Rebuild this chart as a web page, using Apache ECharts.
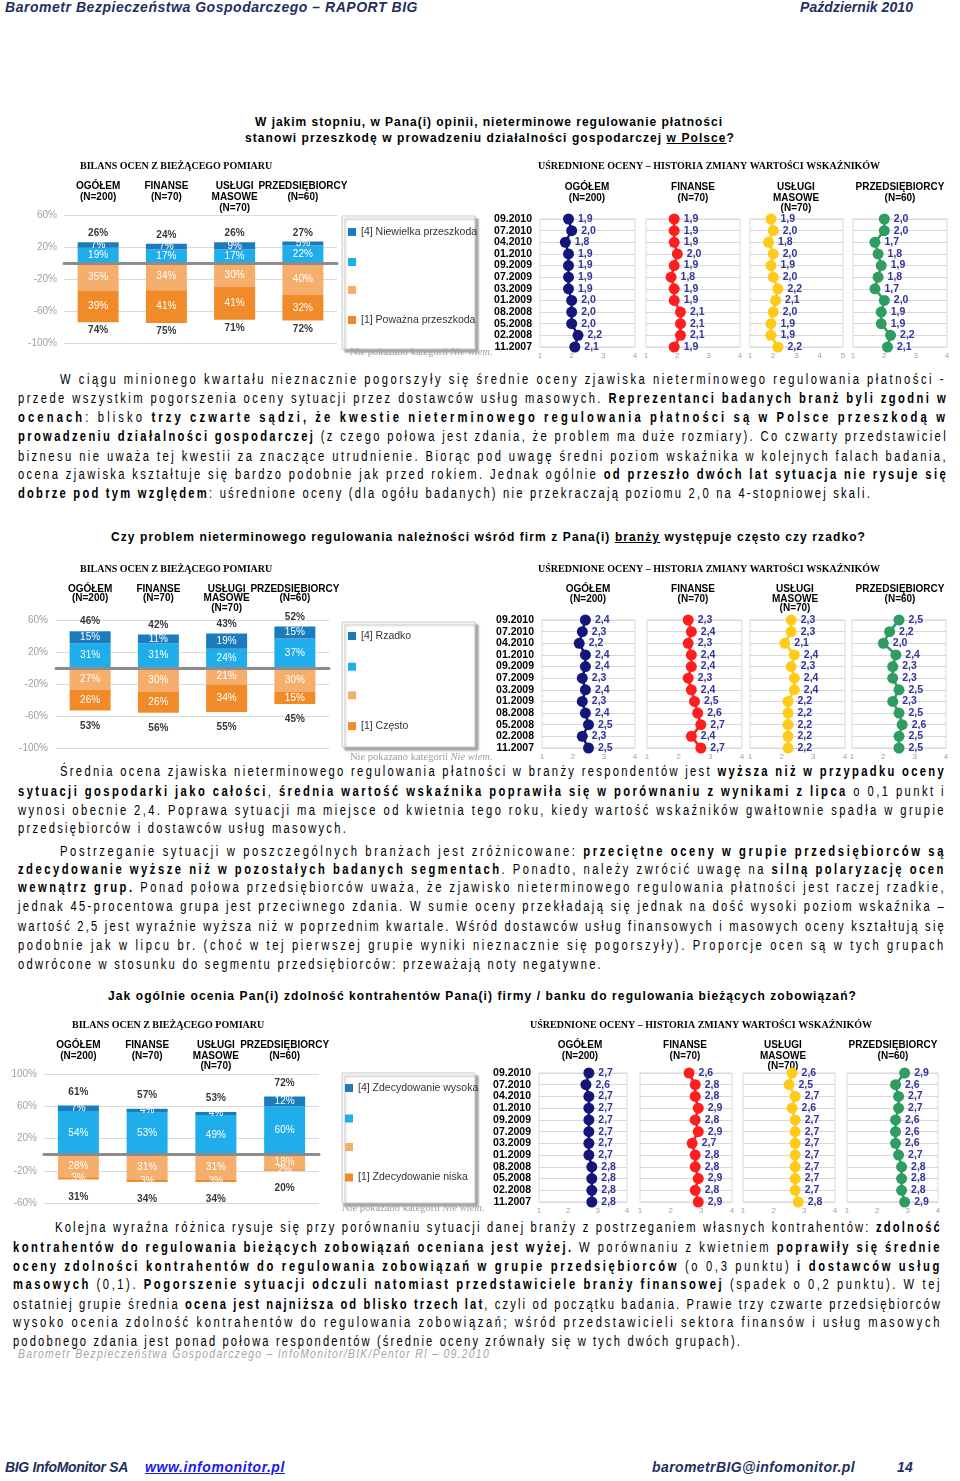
<!DOCTYPE html>
<html><head><meta charset="utf-8">
<script src="https://cdn.jsdelivr.net/npm/echarts@6/dist/echarts.min.js"></script>
<style>
html,body{margin:0;padding:0;background:#fff;}
#page{position:relative;width:960px;height:1481px;overflow:hidden;background:#fff;}
.ln{position:absolute;white-space:nowrap;font-family:'Liberation Sans',Arial,sans-serif;font-size:14px;line-height:19px;color:#000;transform:scaleX(0.8);transform-origin:0 0;}
.ln b{font-weight:bold;}
.src{position:absolute;white-space:nowrap;font-family:'Liberation Sans',sans-serif;font-style:italic;font-size:13px;line-height:14px;color:#a6a6a6;transform:scaleX(0.8);transform-origin:0 0;}
.q{position:absolute;white-space:nowrap;font-family:'Liberation Sans',Arial,sans-serif;font-weight:bold;font-size:12px;line-height:14px;color:#000;}
.hd{position:absolute;white-space:nowrap;font-family:'Liberation Sans',sans-serif;font-weight:bold;font-style:italic;font-size:14px;line-height:15px;color:#1f2f5f;}
.hd a{color:#1a1aee;text-decoration:underline;}
.chart{position:absolute;left:0;width:960px;}
</style></head><body><div id="page">

<div class="hd" style="left:5px;top:0px" data-w="413">Barometr Bezpieczeństwa Gospodarczego – RAPORT BIG</div>
<div class="hd" style="left:800px;top:0px" data-w="113">Październik 2010</div>

<div class="q" style="left:255px;top:115px" data-w="468">W jakim stopniu, w Pana(i) opinii, nieterminowe regulowanie płatności</div>
<div class="q" style="left:245px;top:131px" data-w="490">stanowi przeszkodę w prowadzeniu działalności gospodarczej <u>w Polsce</u>?</div>

<div class="ln" style="left:60px;top:369.5px" data-w="886">W ciągu minionego kwartału nieznacznie pogorszyły się średnie oceny zjawiska nieterminowego regulowania płatności -</div>
<div class="ln" style="left:18px;top:388.5px" data-w="930">przede wszystkim pogorszenia oceny sytuacji przez dostawców usług masowych. <b>Reprezentanci badanych branż byli zgodni w</b></div>
<div class="ln" style="left:18px;top:407.5px" data-w="930"><b>ocenach</b>: blisko <b>trzy czwarte sądzi, że kwestie nieterminowego regulowania płatności są w Polsce przeszkodą w</b></div>
<div class="ln" style="left:18px;top:426.5px" data-w="930"><b>prowadzeniu działalności gospodarczej</b> (z czego połowa jest zdania, że problem ma duże rozmiary). Co czwarty przedstawiciel</div>
<div class="ln" style="left:18px;top:446.5px" data-w="930">biznesu nie uważa tej kwestii za znaczące utrudnienie. Biorąc pod uwagę średni poziom wskaźnika w kolejnych falach badania,</div>
<div class="ln" style="left:18px;top:464.5px" data-w="930">ocena zjawiska kształtuje się bardzo podobnie jak przed rokiem. Jednak ogólnie <b>od przeszło dwóch lat sytuacja nie rysuje się</b></div>
<div class="ln" style="left:18px;top:483.5px" data-w="854"><b>dobrze pod tym względem</b>: uśrednione oceny (dla ogółu badanych) nie przekraczają poziomu 2,0 na 4-stopniowej skali.</div>

<div class="q" style="left:111px;top:530px" data-w="755">Czy problem nieterminowego regulowania należności wśród firm z Pana(i) <u>branży</u> występuje często czy rzadko?</div>

<div class="ln" style="left:60px;top:761.5px" data-w="886">Średnia ocena zjawiska nieterminowego regulowania płatności w branży respondentów jest <b>wyższa niż w przypadku oceny</b></div>
<div class="ln" style="left:18px;top:781.5px" data-w="928"><b>sytuacji gospodarki jako całości</b>, <b>średnia wartość wskaźnika poprawiła się w porównaniu z wynikami z lipca</b> o 0,1 punkt i</div>
<div class="ln" style="left:18px;top:800.5px" data-w="928">wynosi obecnie 2,4. Poprawa sytuacji ma miejsce od kwietnia tego roku, kiedy wartość wskaźników gwałtownie spadła w grupie</div>
<div class="ln" style="left:18px;top:818.5px" data-w="330">przedsiębiorców i dostawców usług masowych.</div>
<div class="ln" style="left:60px;top:841.5px" data-w="886">Postrzeganie sytuacji w poszczególnych branżach jest zróżnicowane: <b>przeciętne oceny w grupie przedsiębiorców są</b></div>
<div class="ln" style="left:18px;top:859.5px" data-w="928"><b>zdecydowanie wyższe niż w pozostałych badanych segmentach</b>. Ponadto, należy zwrócić uwagę na <b>silną polaryzację ocen</b></div>
<div class="ln" style="left:18px;top:877.5px" data-w="928"><b>wewnątrz grup.</b> Ponad połowa przedsiębiorców uważa, że zjawisko nieterminowego regulowania płatności jest raczej rzadkie,</div>
<div class="ln" style="left:18px;top:896.5px" data-w="928">jednak 45-procentowa grupa jest przeciwnego zdania. W sumie oceny przekładają się jednak na dość wysoki poziom wskaźnika –</div>
<div class="ln" style="left:18px;top:916.5px" data-w="928">wartość 2,5 jest wyraźnie wyższa niż w poprzednim kwartale. Wśród dostawców usług finansowych i masowych oceny kształtują się</div>
<div class="ln" style="left:18px;top:935.5px" data-w="928">podobnie jak w lipcu br. (choć w tej pierwszej grupie wyniki nieznacznie się pogorszyły). Proporcje ocen są w tych grupach</div>
<div class="ln" style="left:18px;top:954.5px" data-w="585">odwrócone w stosunku do segmentu przedsiębiorców: przeważają noty negatywne.</div>

<div class="q" style="left:108px;top:989px" data-w="749">Jak ogólnie ocenia Pan(i) zdolność kontrahentów Pana(i) firmy / banku do regulowania bieżących zobowiązań?</div>

<div class="ln" style="left:55px;top:1217.5px" data-w="887">Kolejna wyraźna różnica rysuje się przy porównaniu sytuacji danej branży z postrzeganiem własnych kontrahentów: <b>zdolność</b></div>
<div class="ln" style="left:13px;top:1237.5px" data-w="929"><b>kontrahentów do regulowania bieżących zobowiązań oceniana jest wyżej.</b> W porównaniu z kwietniem <b>poprawiły się średnie</b></div>
<div class="ln" style="left:13px;top:1256.5px" data-w="929"><b>oceny zdolności kontrahentów do regulowania zobowiązań w grupie przedsiębiorców</b> (o 0,3 punktu) <b>i dostawców usług</b></div>
<div class="ln" style="left:13px;top:1274.5px" data-w="929"><b>masowych</b> (0,1). <b>Pogorszenie sytuacji odczuli natomiast przedstawiciele branży finansowej</b> (spadek o 0,2 punktu). W tej</div>
<div class="ln" style="left:13px;top:1294.5px" data-w="929">ostatniej grupie średnia <b>ocena jest najniższa od blisko trzech lat</b>, czyli od początku badania. Prawie trzy czwarte przedsiębiorców</div>
<div class="ln" style="left:13px;top:1312.5px" data-w="929">wysoko ocenia zdolność kontrahentów do regulowania zobowiązań; wśród przedstawicieli sektora finansów i usług masowych</div>
<div class="ln" style="left:13px;top:1331.5px" data-w="729">podobnego zdania jest ponad połowa respondentów (średnie oceny zrównały się w tych dwóch grupach).</div>
<div class="src" style="left:18px;top:1347px" data-w="472">Barometr Bezpieczeństwa Gospodarczego – InfoMonitor/BIK/Pentor RI – 09.2010</div>

<div class="hd" style="left:5px;top:1460px" data-w="123">BIG InfoMonitor SA</div>
<div class="hd" style="left:145px;top:1460px" data-w="140"><a>www.infomonitor.pl</a></div>
<div class="hd" style="left:652px;top:1460px" data-w="203">barometrBIG@infomonitor.pl</div>
<div class="hd" style="left:897px;top:1460px" data-w="16">14</div>

<div id="c1" class="chart" style="top:150px;height:220px"></div>
<div id="c2" class="chart" style="top:555px;height:212px"></div>
<div id="c3" class="chart" style="top:1012px;height:205px"></div>
</div>
<script>
// ---------- DATA ----------
const categories = ['OGÓŁEM\n(N=200)', 'FINANSE\n(N=70)', 'USŁUGI\nMASOWE\n(N=70)', 'PRZEDSIĘBIORCY\n(N=60)'];
const waves = ['09.2010','07.2010','04.2010','01.2010','09.2009','07.2009','03.2009','01.2009','08.2008','05.2008','02.2008','11.2007'];
const barTitle = 'BILANS OCEN Z BIEŻĄCEGO POMIARU';
const avgTitle = 'UŚREDNIONE OCENY – HISTORIA ZMIANY WARTOŚCI WSKAŹNIKÓW';
const noteMain = 'Nie pokazano kategorii ';
const noteItalic = 'Nie wiem.';

// Q1: nieterminowe regulowanie płatności jako przeszkoda
const q1Legend = ['[4] Niewielka przeszkoda', '[3]', '[2]', '[1] Poważna przeszkoda'];
const q1Ticks = [-100, -60, -20, 20, 60];
const q1Level4 = [7, 7, 9, 5];
const q1Level3 = [19, 17, 17, 22];
const q1Level2 = [-35, -34, -30, -40];
const q1Level1 = [-39, -41, -41, -32];
const q1AvgOgolem  = [1.9, 2.0, 1.8, 1.9, 1.9, 1.9, 1.9, 2.0, 2.0, 2.0, 2.2, 2.1];
const q1AvgFinanse = [1.9, 1.9, 1.9, 2.0, 1.9, 1.8, 1.9, 1.9, 2.1, 2.1, 2.1, 1.9];
const q1AvgUslugi  = [1.9, 2.0, 1.8, 2.0, 1.9, 2.0, 2.2, 2.1, 2.0, 1.9, 1.9, 2.2];
const q1AvgPrzeds  = [2.0, 2.0, 1.7, 1.8, 1.9, 1.8, 1.7, 2.0, 1.9, 1.9, 2.2, 2.1];
const q1AvgTicks = [[1,2,3,4],[1,2,3,4],[1,2,3,4,5],[1,2,3,4]];

// Q2: częstość problemu w branży
const q2Legend = ['[4] Rzadko', '[3]', '[2]', '[1] Często'];
const q2Ticks = [-100, -60, -20, 20, 60];
const q2Level4 = [15, 11, 19, 15];
const q2Level3 = [31, 31, 24, 37];
const q2Level2 = [-27, -30, -21, -30];
const q2Level1 = [-26, -26, -34, -15];
const q2AvgOgolem  = [2.4, 2.3, 2.2, 2.4, 2.4, 2.3, 2.4, 2.3, 2.4, 2.5, 2.3, 2.5];
const q2AvgFinanse = [2.3, 2.4, 2.3, 2.4, 2.4, 2.3, 2.4, 2.5, 2.6, 2.7, 2.4, 2.7];
const q2AvgUslugi  = [2.3, 2.3, 2.1, 2.4, 2.3, 2.4, 2.4, 2.2, 2.2, 2.2, 2.2, 2.2];
const q2AvgPrzeds  = [2.5, 2.2, 2.0, 2.4, 2.3, 2.3, 2.5, 2.3, 2.5, 2.6, 2.5, 2.5];
const q2AvgTicks = [[1,2,3,4],[1,2,3,4],[1,2,3,4],[1,2,3,4]];

// Q3: zdolność kontrahentów do regulowania zobowiązań
const q3Legend = ['[4] Zdecydowanie wysoka', '[3]', '[2]', '[1] Zdecydowanie niska'];
const q3Ticks = [-60, -20, 20, 60, 100];
const q3Level4 = [7, 4, 4, 12];
const q3Level3 = [54, 53, 49, 60];
const q3Level2 = [-28, -31, -31, -18];
const q3Level1 = [-3, -3, -3, -2];
const q3AvgOgolem  = [2.7, 2.6, 2.7, 2.7, 2.7, 2.7, 2.7, 2.7, 2.8, 2.8, 2.8, 2.8];
const q3AvgFinanse = [2.6, 2.8, 2.8, 2.9, 2.8, 2.9, 2.7, 2.8, 2.8, 2.9, 2.8, 2.9];
const q3AvgUslugi  = [2.6, 2.5, 2.7, 2.6, 2.7, 2.7, 2.7, 2.7, 2.7, 2.7, 2.7, 2.8];
const q3AvgPrzeds  = [2.9, 2.6, 2.7, 2.7, 2.6, 2.6, 2.6, 2.7, 2.8, 2.8, 2.8, 2.9];
const q3AvgTicks = [[1,2,3,4],[1,2,3,4],[1,2,3,4],[1,2,3,4]];

// ---------- STYLE ----------
const C4 = '#1b7bbd', C3 = '#1fadec', C2 = '#f5ae6c', C1 = '#f18b2a';
const lineColors = ['#14167a', '#ff1d1d', '#ffca18', '#2f9c62'];
const FONT = "'Liberation Sans', Arial, sans-serif";
const SERIF = "'Liberation Serif', 'Times New Roman', serif";

// fit text lines to their measured widths
document.querySelectorAll('[data-w]').forEach(el => {
  el.style.letterSpacing = '0px';
  const w = el.getBoundingClientRect().width;
  const n = el.textContent.length;
  const sc = (el.classList.contains('ln') || el.classList.contains('src')) ? 0.8 : 1;
  el.style.letterSpacing = ((+el.dataset.w - w) / (n * sc)) + 'px';
});

function buildBlock(el, T, d, L) {
  const H = el.clientHeight;
  const chart = echarts.init(el, null, {width: 960, height: H});
  const Y = v => v - T;
  const grid = [], xAxis = [], yAxis = [], series = [], elements = [];
  const b = L.bar;
  grid.push({left: b.left, top: Y(b.top), width: b.width, height: b.bottom - b.top});
  xAxis.push({type: 'category', gridIndex: 0, data: categories, z: 4,
    axisLine: {onZero: true, lineStyle: {color: '#8c8c8c', width: 3}},
    axisTick: {show: false}, axisLabel: {show: false}});
  xAxis.push({type: 'category', gridIndex: 0, position: 'top', data: categories,
    axisLine: {show: false, onZero: false}, axisTick: {show: false},
    axisLabel: {interval: 0, verticalAlign: 'top', margin: b.headMargin, lineHeight: b.headLH,
      fontSize: 10, fontWeight: 'bold', color: '#000', fontFamily: FONT}});
  yAxis.push({type: 'value', gridIndex: 0, min: d.ticks[0], max: d.ticks[d.ticks.length - 1],
    interval: d.ticks[1] - d.ticks[0],
    axisLabel: {formatter: v => v + '%', color: '#a0a0a0', fontSize: 10, margin: b.labMargin, fontFamily: FONT},
    splitLine: {lineStyle: {color: '#d9d9d9', width: 1}}, axisLine: {show: false}, axisTick: {show: false}});
  const inLabel = () => ({show: true, position: 'inside', color: '#fff', fontSize: 10, fontFamily: FONT,
    formatter: p => Math.abs(p.value) + '%'});
  [[d.legend[1], d.l3, C3], [d.legend[0], d.l4, C4], [d.legend[2], d.l2, C2], [d.legend[3], d.l1, C1]]
    .forEach(([name, data, color]) => series.push({type: 'bar', name, data, stack: 'bal', barWidth: 41,
      xAxisIndex: 0, yAxisIndex: 0, itemStyle: {color}, label: inLabel(), silent: true}));
  const posTot = d.l4.map((v, i) => v + d.l3[i]);
  const negTot = d.l2.map((v, i) => v + d.l1[i]);
  const totLabel = () => ({show: true, color: '#000', fontSize: 10, fontWeight: 'bold', fontFamily: FONT,
    formatter: p => Math.abs(p.value) + '%'});
  series.push({type: 'scatter', name: 'sumPos', data: posTot, xAxisIndex: 0, yAxisIndex: 0, symbolSize: 1, silent: true,
    itemStyle: {color: 'rgba(0,0,0,0)'}, label: Object.assign(totLabel(), {position: 'top', distance: b.topDist})});
  series.push({type: 'scatter', name: 'sumNeg', data: negTot, xAxisIndex: 0, yAxisIndex: 0, symbolSize: 1, silent: true,
    itemStyle: {color: 'rgba(0,0,0,0)'}, label: Object.assign(totLabel(), {position: 'bottom', distance: b.botDist})});

  // dot plots
  const avgs = [d.avgO, d.avgF, d.avgU, d.avgP];
  const A = L.dots;
  avgs.forEach((vals, k) => {
    const [x0, x1] = A.panels[k];
    grid.push({left: x0, top: Y(A.top), width: x1 - x0, height: A.bottom - A.top,
      show: true, borderColor: '#d9d9d9', borderWidth: 1, backgroundColor: 'transparent'});
    const tk = d.avgTicks[k];
    xAxis.push({type: 'value', gridIndex: k + 1, min: tk[0], max: tk[tk.length - 1], interval: 1,
      axisLabel: {color: '#a0a0a0', fontSize: 8, margin: 5, fontFamily: FONT},
      splitLine: {show: false}, axisLine: {show: false}, axisTick: {show: false}});
    yAxis.push({type: 'category', gridIndex: k + 1, data: waves, inverse: true, boundaryGap: false,
      axisLabel: {show: k === 0, interval: 0, fontSize: 10.5, fontWeight: 'bold', color: '#000', margin: 8, fontFamily: FONT},
      splitLine: {show: true, interval: 0, lineStyle: {color: '#d9d9d9'}}, axisLine: {show: false},
      axisTick: {show: false, interval: 0}});
    series.push({type: 'line', name: categories[k].split('\n')[0], xAxisIndex: k + 2, yAxisIndex: k + 1,
      data: vals.map((v, i) => [v, waves[i]]), symbol: 'circle', symbolSize: 11, showSymbol: true, showAllSymbol: true,
      silent: true, z: 3,
      itemStyle: {color: lineColors[k]}, lineStyle: {color: lineColors[k], width: 2.5},
      label: {show: true, position: 'right', distance: 4, color: '#333399', fontSize: 10.5, fontWeight: 'bold',
        fontFamily: FONT, formatter: p => p.value[0].toFixed(1).replace('.', ',')},
      labelLayout: {hideOverlap: false}});
    elements.push({type: 'text', x: A.heads[k], y: Y(A.headTop), silent: true,
      style: {text: categories[k], align: 'center', verticalAlign: 'top', fontSize: 10, fontWeight: 'bold',
        fontFamily: FONT, lineHeight: A.headLH, fill: '#000'}});
  });

  // section subtitles
  elements.push({type: 'text', x: L.sub1[0], y: Y(L.sub1[1]), silent: true,
    style: {text: barTitle, verticalAlign: 'middle', fontSize: 10, fontWeight: 'bold', fontFamily: SERIF, fill: '#000'}});
  elements.push({type: 'text', x: L.sub2[0], y: Y(L.sub2[1]), silent: true,
    style: {text: avgTitle, verticalAlign: 'middle', fontSize: 10, fontWeight: 'bold', fontFamily: SERIF, fill: '#000'}});
  // legend box
  const lb = L.legendBox;
  elements.push({type: 'rect', z: -1, silent: true, shape: {x: lb[0], y: Y(lb[1]), width: lb[2], height: lb[3]},
    style: {fill: '#fff', stroke: '#c8c8c8', lineWidth: 1, shadowBlur: 2, shadowOffsetX: 3, shadowOffsetY: 3,
      shadowColor: 'rgba(0,0,0,0.35)'}});
  elements.push({type: 'text', x: L.note[0], y: Y(L.note[1]), silent: true,
    style: {text: '{a|' + noteMain + '}{b|' + noteItalic + '}', verticalAlign: 'middle',
      rich: {a: {fontSize: 10.5, fontFamily: SERIF, fill: '#a0a0a0'},
             b: {fontSize: 10.5, fontFamily: SERIF, fontStyle: 'italic', fill: '#a0a0a0'}}}});

  chart.setOption({
    animation: false,
    textStyle: {fontFamily: FONT},
    grid: grid, xAxis: xAxis, yAxis: yAxis, series: series,
    graphic: {elements: elements},
    legend: {data: d.legend, orient: 'vertical', left: L.legendLeft, top: Y(L.legendTop), itemWidth: 8, itemHeight: 8,
      itemGap: L.legendGap, icon: 'rect', selectedMode: false, padding: 0,
      textStyle: {fontSize: 10.5, color: '#333', fontFamily: FONT, lineHeight: 12},
      formatter: n => (n === '[3]' || n === '[2]') ? '' : n}
  });
}

buildBlock(document.getElementById('c1'), 150,
  {legend: q1Legend, ticks: q1Ticks, l4: q1Level4, l3: q1Level3, l2: q1Level2, l1: q1Level1,
   avgO: q1AvgOgolem, avgF: q1AvgFinanse, avgU: q1AvgUslugi, avgP: q1AvgPrzeds, avgTicks: q1AvgTicks},
  {bar: {left: 64, width: 273, top: 215, bottom: 343, headMargin: 34, headLH: 11, labMargin: 7, topDist: 3, botDist: 3},
   dots: {panels: [[540,635],[646,740],[750,843],[853,947]], top: 219, bottom: 347,
          heads: [587,693,796,900], headTop: 182, headLH: 10.5},
   sub1: [80, 166], sub2: [538, 166], legendBox: [342, 216, 133, 133], legendLeft: 348, legendTop: 226, legendGap: 20, note: [350, 352]});

buildBlock(document.getElementById('c2'), 555,
  {legend: q2Legend, ticks: q2Ticks, l4: q2Level4, l3: q2Level3, l2: q2Level2, l1: q2Level1,
   avgO: q2AvgOgolem, avgF: q2AvgFinanse, avgU: q2AvgUslugi, avgP: q2AvgPrzeds, avgTicks: q2AvgTicks},
  {bar: {left: 56, width: 273, top: 620, bottom: 748, headMargin: 36, headLH: 9.5, labMargin: 8, topDist: 4, botDist: 10},
   dots: {panels: [[542,635],[647,742],[750,845],[852,946]], top: 620, bottom: 748,
          heads: [588,693,795,900], headTop: 584.5, headLH: 9.5},
   sub1: [80, 569], sub2: [538, 569], legendBox: [342, 622, 133, 125], legendLeft: 348, legendTop: 630, legendGap: 20.7, note: [350, 757]});

buildBlock(document.getElementById('c3'), 1012,
  {legend: q3Legend, ticks: q3Ticks, l4: q3Level4, l3: q3Level3, l2: q3Level2, l1: q3Level1,
   avgO: q3AvgOgolem, avgF: q3AvgFinanse, avgU: q3AvgUslugi, avgP: q3AvgPrzeds, avgTicks: q3AvgTicks},
  {bar: {left: 44, width: 275, top: 1074, bottom: 1203, headMargin: 34, headLH: 10.5, labMargin: 7, topDist: 8, botDist: 12},
   dots: {panels: [[539,627],[640,732],[743,835],[847,938]], top: 1073, bottom: 1202,
          heads: [580,685,783,893], headTop: 1040, headLH: 10.5},
   sub1: [72, 1025], sub2: [530, 1025], legendBox: [342, 1073, 133, 130], legendLeft: 345, legendTop: 1082, legendGap: 20.5, note: [342, 1208]});
</script>
</body></html>
